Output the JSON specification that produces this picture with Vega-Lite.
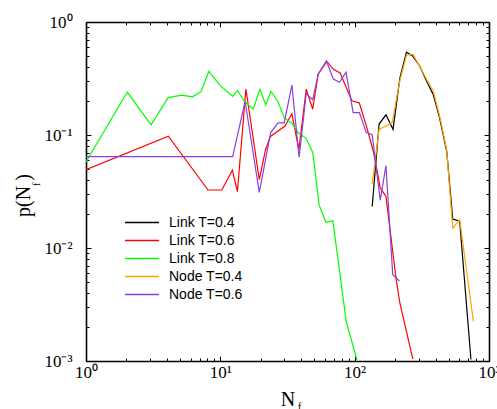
{
  "$schema": "https://vega.github.io/schema/vega-lite/v6.json",
  "width": 403,
  "height": 339,
  "autosize": "none",
  "padding": {"left": 86, "top": 22, "right": 8, "bottom": 48},
  "background": "white",
  "config": {
    "view": {"stroke": null},
    "axis": {"grid": false, "domainColor": "black", "tickColor": "black", "labelColor": "black", "titleColor": "black", "labelFont": "Liberation Serif", "titleFont": "Liberation Serif", "labelFontSize": 17, "titleFontWeight": "normal", "titleFontSize": 20, "domainWidth": 1.6, "tickWidth": 1}
  },
  "datasets": {
    "curves": [
      {"s": "Link T=0.4", "x": 135, "y": 0.0233},
      {"s": "Link T=0.4", "x": 152, "y": 0.125},
      {"s": "Link T=0.4", "x": 171, "y": 0.151},
      {"s": "Link T=0.4", "x": 193, "y": 0.112},
      {"s": "Link T=0.4", "x": 217, "y": 0.319},
      {"s": "Link T=0.4", "x": 243, "y": 0.541},
      {"s": "Link T=0.4", "x": 270, "y": 0.5},
      {"s": "Link T=0.4", "x": 303, "y": 0.412},
      {"s": "Link T=0.4", "x": 344, "y": 0.298},
      {"s": "Link T=0.4", "x": 385, "y": 0.227},
      {"s": "Link T=0.4", "x": 427, "y": 0.145},
      {"s": "Link T=0.4", "x": 485, "y": 0.0711},
      {"s": "Link T=0.4", "x": 537, "y": 0.018},
      {"s": "Link T=0.4", "x": 605, "y": 0.0173},
      {"s": "Link T=0.4", "x": 734, "y": 0.00103},
      {"s": "Link T=0.6", "x": 1, "y": 0.0493},
      {"s": "Link T=0.6", "x": 4.1, "y": 0.0976},
      {"s": "Link T=0.6", "x": 8.1, "y": 0.0326},
      {"s": "Link T=0.6", "x": 10.25, "y": 0.0326},
      {"s": "Link T=0.6", "x": 12.3, "y": 0.0488},
      {"s": "Link T=0.6", "x": 13.4, "y": 0.0315},
      {"s": "Link T=0.6", "x": 15.5, "y": 0.255},
      {"s": "Link T=0.6", "x": 19.5, "y": 0.0402},
      {"s": "Link T=0.6", "x": 21.7, "y": 0.0741},
      {"s": "Link T=0.6", "x": 23.6, "y": 0.0972},
      {"s": "Link T=0.6", "x": 30.3, "y": 0.12},
      {"s": "Link T=0.6", "x": 34.1, "y": 0.154},
      {"s": "Link T=0.6", "x": 38.4, "y": 0.0741},
      {"s": "Link T=0.6", "x": 43.6, "y": 0.255},
      {"s": "Link T=0.6", "x": 48.7, "y": 0.169},
      {"s": "Link T=0.6", "x": 53.5, "y": 0.345},
      {"s": "Link T=0.6", "x": 62.1, "y": 0.448},
      {"s": "Link T=0.6", "x": 69.4, "y": 0.381},
      {"s": "Link T=0.6", "x": 78, "y": 0.354},
      {"s": "Link T=0.6", "x": 95.3, "y": 0.201},
      {"s": "Link T=0.6", "x": 108.4, "y": 0.192},
      {"s": "Link T=0.6", "x": 123, "y": 0.117},
      {"s": "Link T=0.6", "x": 138, "y": 0.0711},
      {"s": "Link T=0.6", "x": 155, "y": 0.034},
      {"s": "Link T=0.6", "x": 171, "y": 0.0286},
      {"s": "Link T=0.6", "x": 203, "y": 0.00543},
      {"s": "Link T=0.6", "x": 217, "y": 0.00326},
      {"s": "Link T=0.6", "x": 271, "y": 0.00104},
      {"s": "Link T=0.8", "x": 1, "y": 0.0577},
      {"s": "Link T=0.8", "x": 2.03, "y": 0.24},
      {"s": "Link T=0.8", "x": 3.05, "y": 0.123},
      {"s": "Link T=0.8", "x": 4.09, "y": 0.214},
      {"s": "Link T=0.8", "x": 5.16, "y": 0.225},
      {"s": "Link T=0.8", "x": 6.2, "y": 0.218},
      {"s": "Link T=0.8", "x": 7.18, "y": 0.242},
      {"s": "Link T=0.8", "x": 8.2, "y": 0.365},
      {"s": "Link T=0.8", "x": 9.95, "y": 0.275},
      {"s": "Link T=0.8", "x": 12.35, "y": 0.22},
      {"s": "Link T=0.8", "x": 13.4, "y": 0.248},
      {"s": "Link T=0.8", "x": 15.3, "y": 0.195},
      {"s": "Link T=0.8", "x": 17.6, "y": 0.17},
      {"s": "Link T=0.8", "x": 19.7, "y": 0.254},
      {"s": "Link T=0.8", "x": 21.8, "y": 0.185},
      {"s": "Link T=0.8", "x": 23.8, "y": 0.243},
      {"s": "Link T=0.8", "x": 26.9, "y": 0.197},
      {"s": "Link T=0.8", "x": 30, "y": 0.141},
      {"s": "Link T=0.8", "x": 34.1, "y": 0.128},
      {"s": "Link T=0.8", "x": 38.1, "y": 0.104},
      {"s": "Link T=0.8", "x": 43.3, "y": 0.094},
      {"s": "Link T=0.8", "x": 48.7, "y": 0.0705},
      {"s": "Link T=0.8", "x": 54.5, "y": 0.0238},
      {"s": "Link T=0.8", "x": 61.1, "y": 0.0169},
      {"s": "Link T=0.8", "x": 68.8, "y": 0.0174},
      {"s": "Link T=0.8", "x": 86.5, "y": 0.00224},
      {"s": "Link T=0.8", "x": 104, "y": 0.00102},
      {"s": "Node T=0.4", "x": 135, "y": 0.0368},
      {"s": "Node T=0.4", "x": 152, "y": 0.112},
      {"s": "Node T=0.4", "x": 190, "y": 0.128},
      {"s": "Node T=0.4", "x": 217, "y": 0.303},
      {"s": "Node T=0.4", "x": 243, "y": 0.508},
      {"s": "Node T=0.4", "x": 272, "y": 0.517},
      {"s": "Node T=0.4", "x": 303, "y": 0.41},
      {"s": "Node T=0.4", "x": 344, "y": 0.309},
      {"s": "Node T=0.4", "x": 385, "y": 0.243},
      {"s": "Node T=0.4", "x": 432, "y": 0.142},
      {"s": "Node T=0.4", "x": 484, "y": 0.0741},
      {"s": "Node T=0.4", "x": 537, "y": 0.015},
      {"s": "Node T=0.4", "x": 605, "y": 0.0178},
      {"s": "Node T=0.4", "x": 765, "y": 0.00224},
      {"s": "Node T=0.6", "x": 1, "y": 0.0643},
      {"s": "Node T=0.6", "x": 12.35, "y": 0.0643},
      {"s": "Node T=0.6", "x": 15.3, "y": 0.198},
      {"s": "Node T=0.6", "x": 19.5, "y": 0.031},
      {"s": "Node T=0.6", "x": 23.7, "y": 0.105},
      {"s": "Node T=0.6", "x": 26.9, "y": 0.128},
      {"s": "Node T=0.6", "x": 29.9, "y": 0.128},
      {"s": "Node T=0.6", "x": 34.1, "y": 0.277},
      {"s": "Node T=0.6", "x": 38.6, "y": 0.0636},
      {"s": "Node T=0.6", "x": 43.6, "y": 0.233},
      {"s": "Node T=0.6", "x": 48.7, "y": 0.205},
      {"s": "Node T=0.6", "x": 53.5, "y": 0.345},
      {"s": "Node T=0.6", "x": 61.6, "y": 0.452},
      {"s": "Node T=0.6", "x": 69.4, "y": 0.312},
      {"s": "Node T=0.6", "x": 77.2, "y": 0.293},
      {"s": "Node T=0.6", "x": 86.2, "y": 0.36},
      {"s": "Node T=0.6", "x": 97.4, "y": 0.158},
      {"s": "Node T=0.6", "x": 108.4, "y": 0.158},
      {"s": "Node T=0.6", "x": 122, "y": 0.105},
      {"s": "Node T=0.6", "x": 135, "y": 0.1006},
      {"s": "Node T=0.6", "x": 155, "y": 0.0265},
      {"s": "Node T=0.6", "x": 171, "y": 0.0535},
      {"s": "Node T=0.6", "x": 192, "y": 0.0058},
      {"s": "Node T=0.6", "x": 215, "y": 0.0051}
    ]
  },
  "data": {"name": "curves"},
  "layer": [
    {
      "mark": {"type": "line", "clip": true, "strokeWidth": 1.2},
      "encoding": {
        "x": {"field": "x", "type": "quantitative", "scale": {"type": "log", "domain": [1, 1000], "nice": false},
              "axis": {"orient": "bottom", "values": [1, 10, 100, 1000], "tickSize": -5, "labelPadding": 8,
                       "labelExpr": "datum.value == 1 ? '10⁰' : datum.value == 10 ? '10¹' : datum.value == 100 ? '10²' : '10³'",
                       "labelFlush": false, "labelOverlap": false, "title": "N", "titlePadding": 9}},
        "y": {"field": "y", "type": "quantitative", "scale": {"type": "log", "domain": [0.001, 1], "nice": false},
              "axis": {"orient": "left", "values": [0.001, 0.01, 0.1, 1], "tickSize": -5, "labelPadding": 19,
                       "labelExpr": "datum.value == 1 ? '10⁰' : datum.value == 0.1 ? '10⁻¹' : datum.value == 0.01 ? '10⁻²' : '10⁻³'",
                       "labelFlush": false, "labelOverlap": false, "title": "p(N )", "titlePadding": 10, "titleY": 173}},
        "color": {"field": "s", "type": "nominal",
                  "scale": {"domain": ["Link T=0.4", "Link T=0.6", "Link T=0.8", "Node T=0.4", "Node T=0.6"],
                            "range": ["#000000", "#ff0000", "#00ff00", "#ffa500", "#8a3fdc"]},
                  "legend": {"title": null, "orient": "none", "legendX": 49, "legendY": 193.5, "padding": 0,
                             "symbolType": "M-3.4,0H3.4", "symbolSize": 100, "symbolStrokeWidth": 1.4,
                             "labelFont": "Liberation Sans", "labelFontSize": 14, "labelColor": "black",
                             "labelOffset": 20, "rowPadding": 4}}
      }
    },
    {
      "mark": {"type": "point", "opacity": 0},
      "encoding": {
        "x": {"field": "x", "type": "quantitative",
              "axis": {"orient": "bottom", "values": [2,3,4,5,6,7,8,9,20,30,40,50,60,70,80,90,200,300,400,500,600,700,800,900],
                       "tickSize": -3, "labels": false, "domain": false, "title": "f", "titleFontSize": 11,
                       "titleX": 213, "titleY": 39, "titleBaseline": "top", "titleAlign": "center"}},
        "y": {"field": "y", "type": "quantitative",
              "axis": {"orient": "left", "values": [0.002,0.003,0.004,0.005,0.006,0.007,0.008,0.009,0.02,0.03,0.04,0.05,0.06,0.07,0.08,0.09,0.2,0.3,0.4,0.5,0.6,0.7,0.8,0.9],
                       "tickSize": -3, "labels": false, "domain": false, "title": "f", "titleFontSize": 11,
                       "titleX": -50, "titleY": 162, "titleAngle": 270, "titleBaseline": "middle", "titleAlign": "center"}}
      }
    },
    {
      "mark": {"type": "point", "opacity": 0},
      "encoding": {
        "x": {"field": "x", "type": "quantitative",
              "axis": {"orient": "top", "values": [1, 10, 100, 1000], "tickSize": -5, "labels": false, "title": null}},
        "y": {"field": "y", "type": "quantitative",
              "axis": {"orient": "right", "values": [0.001, 0.01, 0.1, 1], "tickSize": -5, "labels": false, "title": null}}
      }
    },
    {
      "mark": {"type": "point", "opacity": 0},
      "encoding": {
        "x": {"field": "x", "type": "quantitative",
              "axis": {"orient": "top", "values": [2,3,4,5,6,7,8,9,20,30,40,50,60,70,80,90,200,300,400,500,600,700,800,900],
                       "tickSize": -3, "labels": false, "domain": false, "title": null}},
        "y": {"field": "y", "type": "quantitative",
              "axis": {"orient": "right", "values": [0.002,0.003,0.004,0.005,0.006,0.007,0.008,0.009,0.02,0.03,0.04,0.05,0.06,0.07,0.08,0.09,0.2,0.3,0.4,0.5,0.6,0.7,0.8,0.9],
                       "tickSize": -3, "labels": false, "domain": false, "title": null}}
      }
    }
  ],
  "resolve": {"axis": {"x": "independent", "y": "independent"}}
}
